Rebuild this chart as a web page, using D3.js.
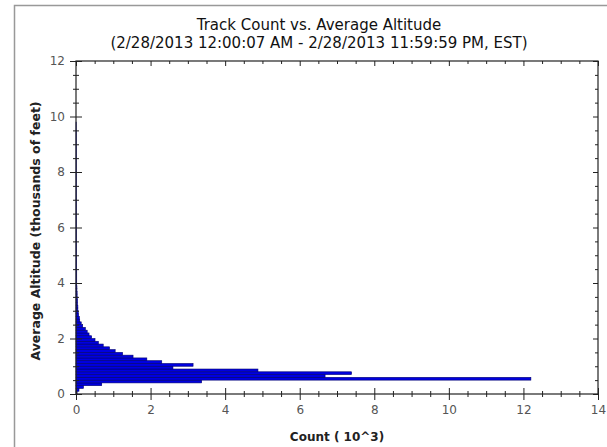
<!DOCTYPE html>
<html><head><meta charset="utf-8">
<script src="https://cdn.jsdelivr.net/npm/d3@7"></script>
<style>body{margin:0;background:#fff}</style>
</head><body>
<svg id="c" width="607" height="447"></svg>
<script>
// Altitude bins (thousands of feet, lower edge) and track counts (10^3)
const binStart = [0.0,0.1,0.2,0.3,0.4,0.5,0.6,0.7,0.8,0.9,1.0,1.1,1.2,1.3,1.4,1.5,1.6,1.7,1.8,1.9,2.0,2.1,2.2,2.3,2.4,2.5,2.6,2.7,2.8,2.9,3.0,3.1,3.2,3.3,3.4,3.5,3.6,3.7,3.8,3.9,4.0,4.5,5.0,5.5,6.0,6.5,7.0,7.5,8.0,8.5,9.0,9.5];
const counts   = [0.03,0.08,0.2,0.69,3.37,12.2,6.68,7.39,4.88,2.6,3.14,2.3,1.9,1.53,1.25,1.05,0.9,0.73,0.6,0.51,0.42,0.35,0.3,0.25,0.18,0.14,0.1,0.09,0.07,0.06,0.05,0.05,0.04,0.04,0.035,0.03,0.03,0.025,0.025,0.02,0.02,0.018,0.015,0.015,0.012,0.012,0.01,0.01,0.01,0.01,0.008,0.006];
const binWidth = [0.1,0.1,0.1,0.1,0.1,0.1,0.1,0.1,0.1,0.1,0.1,0.1,0.1,0.1,0.1,0.1,0.1,0.1,0.1,0.1,0.1,0.1,0.1,0.1,0.1,0.1,0.1,0.1,0.1,0.1,0.1,0.1,0.1,0.1,0.1,0.1,0.1,0.1,0.1,0.1,0.5,0.5,0.5,0.5,0.5,0.5,0.5,0.5,0.5,0.5,0.5,0.3];
const xTicks = [0,2,4,6,8,10,12,14];
const yTicks = [0,2,4,6,8,10,12];
const titleLines = ["Track Count vs. Average Altitude","(2/28/2013 12:00:07 AM - 2/28/2013 11:59:59 PM, EST)"];

const svg = d3.select("#c");
const L=76,R=598,T=61,B=394;
const x = d3.scaleLinear().domain([0,14]).range([L,R]);
const y = d3.scaleLinear().domain([0,12]).range([B,T]);

// outer frame
svg.append("rect").attr("x",14.5).attr("y",5.5).attr("width",620).attr("height",460)
  .attr("fill","none").attr("stroke","#999").attr("stroke-width",1.5);

// bars
svg.append("g").selectAll("rect").data(binStart).join("rect")
  .attr("x",x(0))
  .attr("y",(d,i)=>y(d+binWidth[i]))
  .attr("width",(d,i)=>x(counts[i])-x(0))
  .attr("height",(d,i)=>y(d)-y(d+binWidth[i]))
  .attr("fill","#0000e0").attr("stroke","#00006e").attr("stroke-width",0.6);

// axes
const fontF = "DejaVu Sans, sans-serif";
function styleAxis(g){
  g.select(".domain").remove();
  g.selectAll("line").attr("stroke","#222");
  g.selectAll("text").attr("fill","#555").attr("font-size",12).attr("font-family",fontF);
}
const minorX = d3.range(0,14.01,0.5).filter(v=>v%2!==0);
const minorY = d3.range(0,12.01,0.5).filter(v=>v%2!==0);
// bottom
svg.append("g").attr("transform",`translate(0,${B})`).call(d3.axisBottom(x).tickValues(xTicks).tickFormat(d3.format("d")).tickSize(6).tickPadding(5)).call(styleAxis)
  .selectAll(".tick line").attr("y1",-6);
svg.append("g").attr("transform",`translate(0,${B})`).call(d3.axisBottom(x).tickValues(minorX).tickFormat("").tickSize(3)).call(styleAxis)
  .selectAll(".tick line").attr("y1",-3);
// top
svg.append("g").attr("transform",`translate(0,${T})`).call(d3.axisBottom(x).tickValues(xTicks).tickFormat("").tickSize(5)).call(styleAxis);
svg.append("g").attr("transform",`translate(0,${T})`).call(d3.axisBottom(x).tickValues(minorX).tickFormat("").tickSize(3)).call(styleAxis);
// left
svg.append("g").attr("transform",`translate(${L},0)`).call(d3.axisLeft(y).tickValues(yTicks).tickFormat(d3.format("d")).tickSize(6).tickPadding(5)).call(styleAxis)
  .selectAll(".tick line").attr("x1",6);
svg.append("g").attr("transform",`translate(${L},0)`).call(d3.axisLeft(y).tickValues(minorY).tickFormat("").tickSize(3)).call(styleAxis)
  .selectAll(".tick line").attr("x1",3);
// right
svg.append("g").attr("transform",`translate(${R},0)`).call(d3.axisLeft(y).tickValues(yTicks).tickFormat("").tickSize(5)).call(styleAxis);
svg.append("g").attr("transform",`translate(${R},0)`).call(d3.axisLeft(y).tickValues(minorY).tickFormat("").tickSize(3)).call(styleAxis);

// frame
svg.append("rect").attr("x",L).attr("y",T).attr("width",R-L).attr("height",B-T)
  .attr("fill","none").attr("stroke","#222").attr("stroke-width",1.2);

// titles
svg.append("g").selectAll("text").data(titleLines).join("text")
  .attr("x",319).attr("y",(d,i)=>30+i*18).attr("text-anchor","middle")
  .attr("font-family",fontF).attr("font-size",15).attr("fill","#111").text(d=>d);
svg.append("text").attr("x",337).attr("y",441).attr("text-anchor","middle")
  .attr("font-family",fontF).attr("font-size",12).attr("font-weight","bold").attr("fill","#222").text("Count ( 10^3)");
svg.append("text").attr("transform","translate(40,231) rotate(-90)").attr("text-anchor","middle")
  .attr("font-family",fontF).attr("font-size",12.5).attr("font-weight","bold").attr("fill","#222").text("Average Altitude (thousands of feet)");
</script>
</body></html>
